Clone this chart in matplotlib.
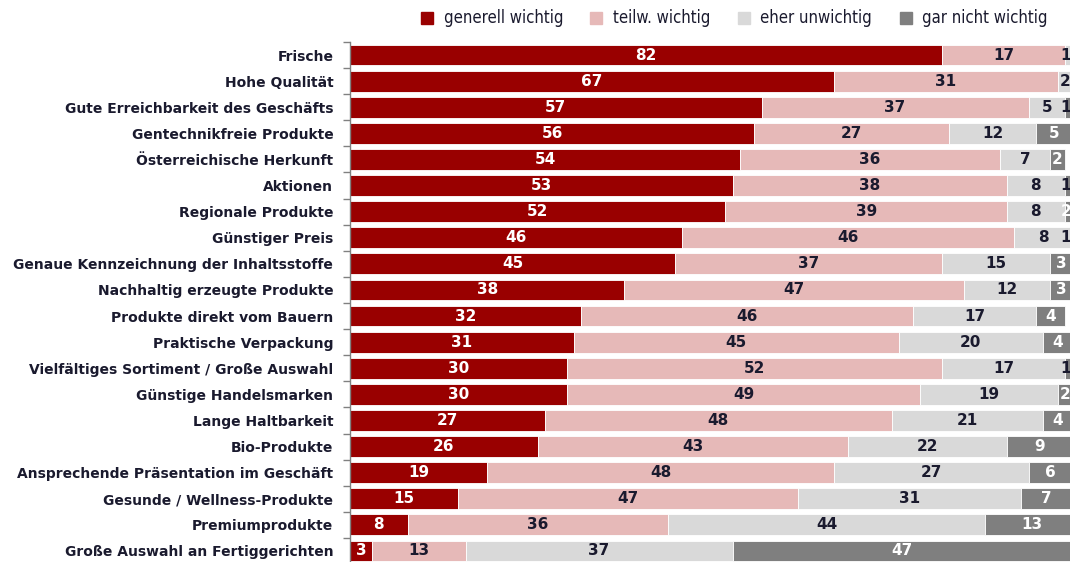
import matplotlib
matplotlib.use("Agg")
import matplotlib.pyplot as plt
import numpy as np
from matplotlib.lines import Line2D

categories = [
    "Frische", "Hohe Qualität", "Gute Erreichbarkeit des Geschäfts",
    "Gentechnikfreie Produkte", "Österreichische Herkunft", "Aktionen",
    "Regionale Produkte", "Günstiger Preis",
    "Genaue Kennzeichnung der Inhaltsstoffe", "Nachhaltig erzeugte Produkte",
    "Produkte direkt vom Bauern", "Praktische Verpackung",
    "Vielfältiges Sortiment / Große Auswahl", "Günstige Handelsmarken",
    "Lange Haltbarkeit", "Bio-Produkte",
    "Ansprechende Präsentation im Geschäft", "Gesunde / Wellness-Produkte",
    "Premiumprodukte", "Große Auswahl an Fertiggerichten",
]
generell = [82, 67, 57, 56, 54, 53, 52, 46, 45, 38, 32, 31, 30, 30, 27, 26, 19, 15, 8, 3]
teilw = [17, 31, 37, 27, 36, 38, 39, 46, 37, 47, 46, 45, 52, 49, 48, 43, 48, 47, 36, 13]
eher = [1, 2, 5, 12, 7, 8, 8, 8, 15, 12, 17, 20, 17, 19, 21, 22, 27, 31, 44, 37]
garnicht = [0, 0, 1, 5, 2, 1, 2, 1, 3, 3, 4, 4, 1, 2, 4, 9, 6, 7, 13, 47]

series_names = ["generell wichtig", "teilw. wichtig", "eher unwichtig", "gar nicht wichtig"]
series = [generell, teilw, eher, garnicht]
colors = ["#990000", "#E6B9B8", "#D9D9D9", "#7F7F7F"]
text_colors = ["white", "#1a1a2e", "#1a1a2e", "white"]

fig = plt.figure(figsize=(10.70, 5.62), dpi=100)
ax = fig.add_axes([350 / 1070, -2 / 562, 722 / 1070, 522 / 562])

y = np.arange(len(categories))
left = np.zeros(len(categories))
for vals, col, tcol in zip(series, colors, text_colors):
    vals = np.array(vals, dtype=float)
    ax.barh(y, vals, left=left, height=0.8, color=col, edgecolor="white", linewidth=0.6)
    for yi, (l, v) in enumerate(zip(left, vals)):
        if v > 0:
            xc = l + v / 2
            ha = "center"
            tc = tcol
            if xc > 99.0:
                xc = 99.9
                ha = "right"
                if v <= 1.5 or l >= 99.5:
                    tc = "#1a1a2e"
            ax.text(xc, yi, f"{int(v)}", ha=ha, va="center",
                    color=tc, fontsize=11, fontweight="bold",
                    family="DejaVu Sans")
    left += vals

ax.set_xlim(0, 100)
ax.set_ylim(len(categories) - 0.5, -0.5)
ax.set_yticks(y)
ax.set_yticklabels(categories, fontsize=10, fontweight="bold", color="#1a1a2e",
                   family="DejaVu Sans")
ax.set_yticks(np.arange(-0.5, len(categories), 1.0), minor=True)
ax.tick_params(axis="y", which="major", length=0, pad=12)
ax.tick_params(axis="y", which="minor", length=5, color="#808080", width=1)
ax.set_xticks([])
for s in ["top", "right", "bottom"]:
    ax.spines[s].set_visible(False)
ax.spines["left"].set_color("#808080")
ax.spines["left"].set_linewidth(1)

handles = [Line2D([], [], marker="s", linestyle="none", markersize=9,
                  markerfacecolor=c, markeredgecolor=c) for c in colors]
fig.legend(handles, series_names, loc="upper center", bbox_to_anchor=(729 / 1070, 1.01),
           ncol=4, frameon=False, handletextpad=0.0, columnspacing=1.0,
           labelcolor="#1a1a2e",
           prop={"family": "DejaVu Sans", "stretch": "condensed", "size": 12})

fig.savefig("out.png", dpi=100)
